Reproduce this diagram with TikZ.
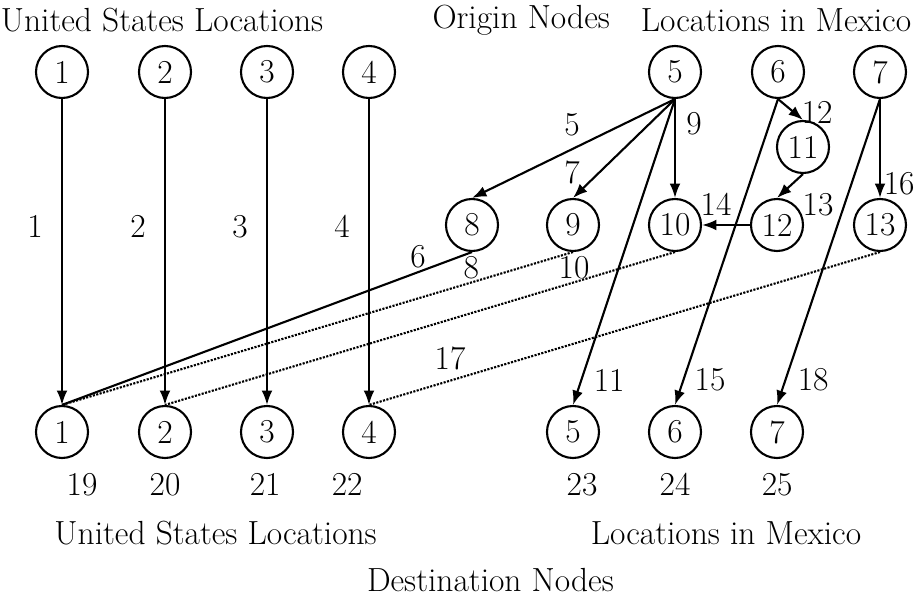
\documentclass[tikz,border=0pt]{standalone}
\usepackage{fontspec}
\usetikzlibrary{arrows.meta}
\tikzset{
  loc/.style={draw, circle, line width=1.5pt, minimum size=1.3cm, inner sep=0pt},
  lbl/.style={inner sep=1pt},
  arc/.style={line width=1.5pt, -{Latex[length=3.6mm,width=2.7mm]}},
  flow/.style={line width=1.5pt},
  link/.style={line width=1.5pt, densely dotted}
}
\begin{document}
\begin{tikzpicture}[font=\fontsize{23.8}{28}\selectfont]
  \useasboundingbox (0,0) rectangle (23.025,14.95);
  % Titles
  \node[lbl] (ustop) at (4.05,14.45) {United States Locations};
  \node[lbl] (origin) at (13.03,14.45) {Origin Nodes};
  \node[lbl] (mxtop) at (19.4,14.45) {Locations in Mexico};
  \node[lbl] (usbot) at (5.39,1.62) {United States Locations};
  \node[lbl] (mxbot) at (18.15,1.62) {Locations in Mexico};
  \node[lbl] (dest) at (12.26,0.45) {Destination Nodes};
  % Origin nodes
  \node[loc] (o1) at (1.55,13.15) {1};
  \node[loc] (o2) at (4.125,13.15) {2};
  \node[loc] (o3) at (6.675,13.15) {3};
  \node[loc] (o4) at (9.225,13.15) {4};
  \node[loc] (o5) at (16.875,13.15) {5};
  \node[loc] (o6) at (19.45,13.15) {6};
  \node[loc] (o7) at (22.0,13.15) {7};
  % Transshipment nodes
  \node[loc] (m8) at (11.8,9.325) {8};
  \node[loc] (m9) at (14.325,9.325) {9};
  \node[loc] (m10) at (16.875,9.325) {10};
  \node[loc] (m11) at (20.075,11.275) {11};
  \node[loc] (m12) at (19.425,9.325) {12};
  \node[loc] (m13) at (22.0,9.325) {13};
  % Destination nodes
  \node[loc] (d1) at (1.55,4.15) {1};
  \node[loc] (d2) at (4.125,4.15) {2};
  \node[loc] (d3) at (6.675,4.15) {3};
  \node[loc] (d4) at (9.225,4.15) {4};
  \node[loc] (d5) at (14.325,4.15) {5};
  \node[loc] (d6) at (16.875,4.15) {6};
  \node[loc] (d7) at (19.425,4.15) {7};
  % Arcs
  \draw[arc] (o1) -- (d1);
  \draw[arc] (o2) -- (d2);
  \draw[arc] (o3) -- (d3);
  \draw[arc] (o4) -- (d4);
  \draw[arc] (o5.south) -- (m8.north);
  \draw[arc] (o5.south) -- (m9.north);
  \draw[arc] (o5.south) -- (m10.north);
  \draw[arc] (o5.south) -- (d5.north);
  \draw[arc] (o6.south) -- (m11.north);
  \draw[arc] (o6.south) -- (d6.north);
  \draw[arc] (m11.south) -- (m12.north);
  \draw[arc] (m12) -- (m10);
  \draw[arc] (o7) -- (m13);
  \draw[arc] (o7.south) -- (d7.north);
  \draw[flow] (m8.south) -- (d1.north);
  \draw[link] (m9.south) -- (d1.north);
  \draw[link] (m10.south) -- (d2.north);
  \draw[link] (m13.south) -- (d4.north);
  % Arc numbers
  \node[lbl] (a1) at (0.875,9.28) {1};
  \node[lbl] (a2) at (3.45,9.28) {2};
  \node[lbl] (a3) at (6.0,9.28) {3};
  \node[lbl] (a4) at (8.55,9.28) {4};
  \node[lbl] (a5) at (14.3,11.83) {5};
  \node[lbl] (a6) at (10.45,8.53) {6};
  \node[lbl] (a7) at (14.3,10.65) {7};
  \node[lbl] (a8) at (11.78,8.25) {8};
  \node[lbl] (a9) at (17.35,11.85) {9};
  \node[lbl] (a10) at (14.35,8.25) {10};
  \node[lbl] (a11) at (15.23,5.45) {11};
  \node[lbl] (a12) at (20.43,12.15) {12};
  \node[lbl] (a13) at (20.45,9.83) {13};
  \node[lbl] (a14) at (17.9,9.83) {14};
  \node[lbl] (a15) at (17.75,5.45) {15};
  \node[lbl] (a16) at (22.48,10.35) {16};
  \node[lbl] (a17) at (11.25,6.0) {17};
  \node[lbl] (a18) at (20.33,5.45) {18};
  \node[lbl] (a19) at (2.05,2.83) {19};
  \node[lbl] (a20) at (4.125,2.83) {20};
  \node[lbl] (a21) at (6.63,2.83) {21};
  \node[lbl] (a22) at (8.68,2.83) {22};
  \node[lbl] (a23) at (14.55,2.83) {23};
  \node[lbl] (a24) at (16.875,2.83) {24};
  \node[lbl] (a25) at (19.43,2.83) {25};
\end{tikzpicture}
\end{document}
